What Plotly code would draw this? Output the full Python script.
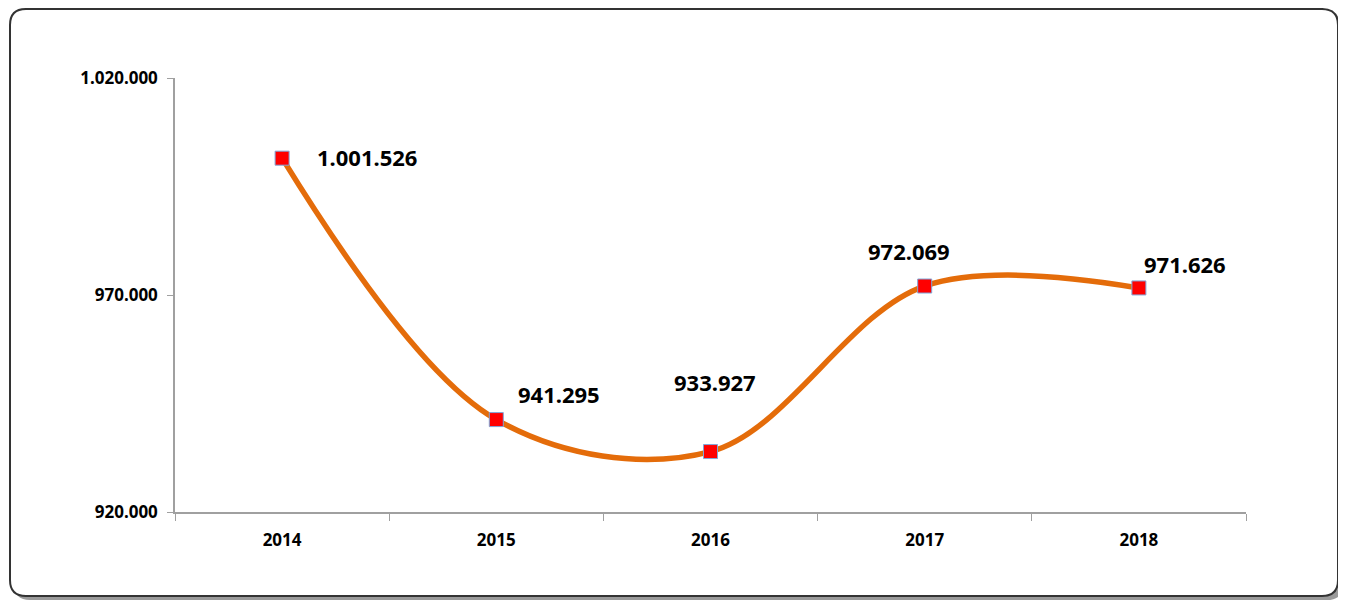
import plotly.graph_objects as go

years = ["2014", "2015", "2016", "2017", "2018"]
values = [1001526, 941295, 933927, 972069, 971626]
y_ticks = [920000, 970000, 1020000]

# the page body adds an 8px margin, so the figure is drawn 8px smaller
OFF = 8
W, H = 1346 - OFF, 601 - OFF
L, R, T, B = 175 - OFF, 100, 78 - OFF, 89
PW, PH = W - L - R, H - T - B


def px(x):
    return (x - OFF - L) / PW


def py(y):
    return (H - B - (y - OFF)) / PH


def rounded_rect(x0, y0, x1, y1, r):
    pts = [
        ("M", [(x0 + r, y0)]),
        ("L", [(x1 - r, y0)]),
        ("Q", [(x1, y0), (x1, y0 + r)]),
        ("L", [(x1, y1 - r)]),
        ("Q", [(x1, y1), (x1 - r, y1)]),
        ("L", [(x0 + r, y1)]),
        ("Q", [(x0, y1), (x0, y1 - r)]),
        ("L", [(x0, y0 + r)]),
        ("Q", [(x0, y0), (x0 + r, y0)]),
    ]
    out = ""
    for cmd, coords in pts:
        out += cmd + " ".join(f"{px(a):.5f},{py(b):.5f}" for a, b in coords) + " "
    return out + "Z"


def fmt(v):
    return f"{v:,}".replace(",", ".")


fig = go.Figure()
fig.add_trace(
    go.Scatter(
        x=years,
        y=values,
        mode="lines+markers",
        line=dict(color="#E46C0A", width=5.5, shape="spline", smoothing=1),
        marker=dict(
            symbol="square",
            size=14,
            color="#FF0000",
            line=dict(color="#7FA7D9", width=1),
        ),
        showlegend=False,
    )
)

# label offsets (pixels) relative to each point
shifts = [(85, 1), (63, 26), (4, 70), (-16, 35), (46, 24)]
for i, (v, (dx, dy)) in enumerate(zip(values, shifts)):
    fig.add_annotation(
        x=i,
        y=v,
        xref="x",
        yref="y",
        text="<b>" + fmt(v) + "</b>",
        showarrow=False,
        xshift=dx,
        yshift=dy,
        font=dict(family="Noto Sans", size=22, color="black"),
    )

# frame with shadow
fig.add_shape(
    type="path",
    path=rounded_rect(14, 13, 1343, 600, 16),
    xref="paper",
    yref="paper",
    fillcolor="#9A9A9A",
    line=dict(width=0),
    layer="below",
)
fig.add_shape(
    type="path",
    path=rounded_rect(10, 9, 1338, 596, 16),
    xref="paper",
    yref="paper",
    fillcolor="white",
    line=dict(color="#333333", width=2),
    layer="below",
)

fig.update_xaxes(
    type="category",
    range=[-0.5, 4.5],
    showline=True,
    linecolor="#A0A0A0",
    linewidth=1.5,
    ticks="outside",
    tickson="boundaries",
    ticklen=7,
    tickcolor="#A0A0A0",
    showgrid=False,
    zeroline=False,
    tickfont=dict(family="Noto Sans", size=17, color="black", weight="bold"),
    ticklabelstandoff=12,
)
fig.update_yaxes(
    range=[920000, 1020000],
    tickvals=y_ticks,
    ticktext=[fmt(v) for v in y_ticks],
    showline=True,
    linecolor="#A0A0A0",
    linewidth=1.5,
    ticks="outside",
    ticklen=6,
    tickcolor="#A0A0A0",
    showgrid=False,
    zeroline=False,
    tickfont=dict(family="Noto Sans", size=17, color="black", weight="bold"),
    ticklabelstandoff=6,
)
fig.update_layout(
    width=W,
    height=H,
    margin=dict(l=L, r=R, t=T, b=B),
    paper_bgcolor="white",
    plot_bgcolor="rgba(0,0,0,0)",
)
fig.write_html("out.html")
